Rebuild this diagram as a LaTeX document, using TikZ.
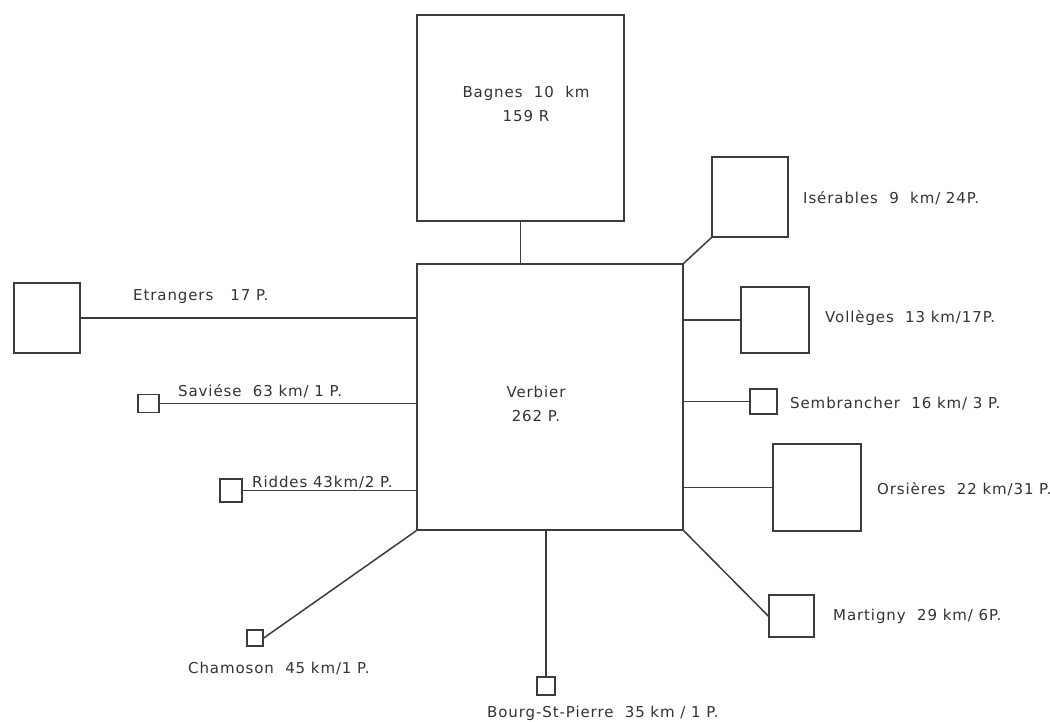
\documentclass[tikz,border=0pt]{standalone}
\usepackage{fontspec}
\setmainfont{DejaVu Sans}[LetterSpace=6]
\begin{document}
\begin{tikzpicture}[x=1pt,y=-1pt,
  rbox/.style n args={2}{draw=linegray,line width=1.5pt,minimum width=#1,minimum height=#2,inner sep=0pt},
  conn/.style={draw=linegray,line width=1.5pt},
  lbl/.style={text=txtgray,font=\fontsize{15}{18}\selectfont,inner sep=0pt,anchor=west},
  ctr/.style={text=txtgray,font=\fontsize{15}{18}\selectfont,inner sep=0pt,align=center}]
\definecolor{linegray}{HTML}{3C3C3C}
\definecolor{txtgray}{HTML}{333333}
\useasboundingbox[fill=white] (0,0) rectangle (1050,722);

% boxes
\node[rbox={266pt}{266pt}] (verbier) at (550,397) {};
\node[rbox={207pt}{206pt}] (bagnes) at (520.5,118) {};
\node[rbox={76pt}{80pt}] (iser) at (750,197) {};
\node[rbox={68pt}{66pt}] (voll) at (775,320) {};
\node[rbox={27pt}{25pt}] (semb) at (763.5,401.5) {};
\node[rbox={88pt}{87pt}] (ors) at (817,487.5) {};
\node[rbox={45pt}{42pt}] (mart) at (791.5,616) {};
\node[rbox={66pt}{70pt}] (etr) at (47,318) {};
\node[rbox={21pt}{18pt}] (sav) at (148.5,403.5) {};
\node[rbox={22pt}{23pt}] (rid) at (231,490.5) {};
\node[rbox={16pt}{16pt}] (cham) at (255,638) {};
\node[rbox={18pt}{18pt}] (bourg) at (546,686) {};

% connectors
\draw[conn] (bagnes.south) -- (bagnes.south |- verbier.north);
\draw[conn] (verbier.north east) -- (iser.south west);
\draw[conn] (voll.west -| verbier.east) -- (voll.west);
\draw[conn] (semb.west -| verbier.east) -- (semb.west);
\draw[conn] (ors.west -| verbier.east) -- (ors.west);
\draw[conn] (verbier.south east) -- (mart.west);
\draw[conn] (etr.east) -- (etr.east -| verbier.west);
\draw[conn] (sav.east) -- (sav.east -| verbier.west);
\draw[conn] (rid.east) -- (rid.east -| verbier.west);
\draw[conn] (verbier.south west) -- (cham.east);
\draw[conn] (bourg.north |- verbier.south) -- (bourg.north);

% labels
\node[ctr] (tverb) at (536,404) {Verbier\\[6pt]262 P.};
\node[ctr] (tbag) at (526,104) {Bagnes\ \ 10\ \ km\\[6pt]159 R};
\node[lbl] (liser) at (803,198) {Isérables\ \ 9\ \ km/ 24P.};
\node[lbl] (lvoll) at (825,318) {Vollèges\ \ 13 km/17P.};
\node[lbl] (lsemb) at (790,403) {Sembrancher\ \ 16 km/ 3 P.};
\node[lbl] (lors) at (877,489) {Orsières\ \ 22 km/31 P.};
\node[lbl] (lmart) at (833,616) {Martigny\ \ 29 km/ 6P.};
\node[lbl] (letr) at (133,297) {Etrangers\ \ \ 17 P.};
\node[lbl] (lsav) at (178,391) {Saviése\ \ 63 km/ 1 P.};
\node[lbl] (lrid) at (252,482) {Riddes 43km/2 P.};
\node[lbl] (lcham) at (188,668) {Chamoson\ \ 45 km/1 P.};
\node[lbl] (lbourg) at (487,713) {Bourg-St-Pierre\ \ 35 km / 1 P.};
\end{tikzpicture}
\end{document}
